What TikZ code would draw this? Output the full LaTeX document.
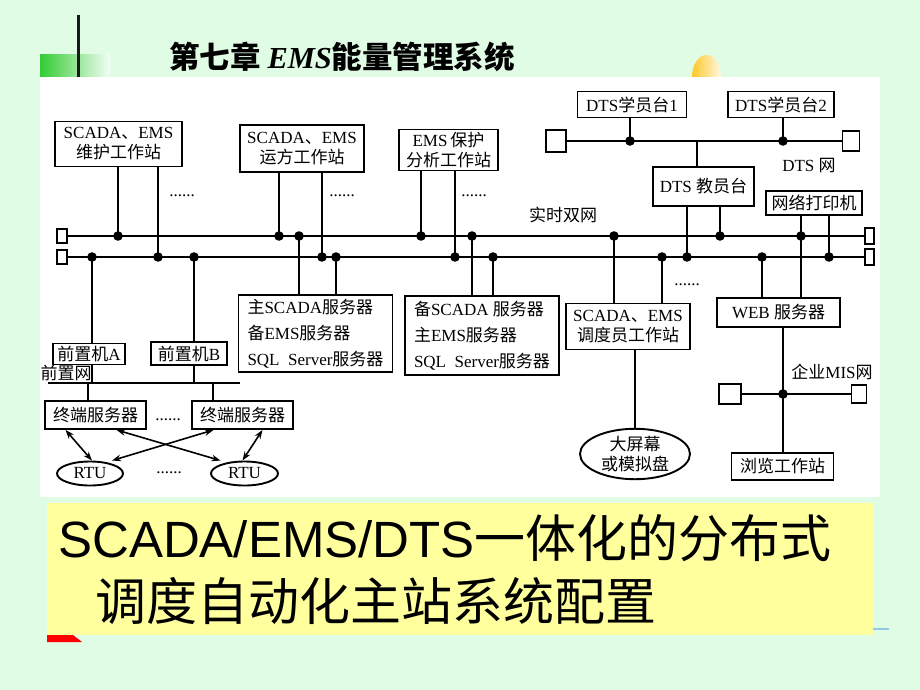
\documentclass[tikz,border=0pt]{standalone}
\usepackage{fontspec}
\setmainfont{Liberation Serif}
\newfontfamily\cjk{Noto Sans CJK SC}
\newfontfamily\capsans{Liberation Sans}
\usetikzlibrary{shapes.geometric,arrows.meta}

\definecolor{slidegreen}{RGB}{225,252,228}
\definecolor{capyellow}{RGB}{255,255,158}
\definecolor{barblue}{RGB}{150,200,230}
\newcommand{\zh}[1]{{\cjk #1}}
\newcommand{\diagfont}{\fontsize{17}{20}\selectfont}
\newcommand{\srvfont}{\fontsize{17}{26}\selectfont}
\newcommand{\capfont}{\capsans\fontsize{51}{51}\selectfont}

\tikzset{
  box/.style={draw, line width=1.9pt, inner sep=2pt, font=\diagfont, align=center, fill=white},
  oval/.style={ellipse, draw, line width=1.9pt, inner sep=0pt, font=\diagfont, align=center, fill=white},
  term/.style={draw, line width=1.6pt, fill=white, inner sep=0pt},
  wire/.style={line width=1.9pt},
  lbl/.style={font=\diagfont, inner sep=0pt},
  link/.style={line width=1.6pt, {Stealth[length=9pt,width=6.5pt]}-{Stealth[length=9pt,width=6.5pt]}},
}

\begin{document}
\begin{tikzpicture}[x=1pt, y=-1pt]
  \useasboundingbox (0,0) rectangle (920,690);
  \fill[slidegreen] (0,0) rectangle (920,690);

  % slide header
  \shade[left color={rgb,255:red,255;green,200;blue,40}, right color={rgb,255:red,255;green,248;blue,225}] (706.5,77) ellipse (14.5 and 22);
  \shade[left color={rgb,255:red,51;green,204;blue,51}, right color=white!60!slidegreen] (40,55) rectangle (110,77);
  \draw[line width=3pt, black!90] (78.5,15) -- (78.5,77);
  \node[inner sep=0pt, font=\cjk\bfseries\fontsize{30.5}{30.5}\selectfont] (title) at (342,57)
    {第七章 {\rmfamily\itshape\bfseries EMS}能量管理系统};
  \fill[white] (40,77) rectangle (880,497);

  % caption
  \fill[red] (47,635) -- (73,635) -- (82,642) -- (47,642) -- cycle;
  \draw[barblue, line width=2.5pt] (872,629) -- (889,629);
  \fill[capyellow] (47,503) rectangle (873,635);
  \node[anchor=base west, inner sep=0pt, font=\capfont] (cap1) at (58,557) {SCADA/EMS/DTS\zh{一体化的分布式}};
  \node[anchor=base west, inner sep=0pt, font=\capfont] (cap2) at (95,620) {\zh{调度自动化主站系统配置}};

  % boxes
  \node[box, minimum width=127pt, minimum height=45pt] (ws1) at (118.5,144) {SCADA\zh{、}EMS\\\zh{维护工作站}};
  \node[box, minimum width=124pt, minimum height=47pt] (ws2) at (302,148.5) {SCADA\zh{、}EMS\\\zh{运方工作站}};
  \node[box, minimum width=99pt, minimum height=41pt] (ws3) at (448.5,150) {EMS\,\zh{保护}\\\zh{分析工作站}};
  \node[box, minimum width=109pt, minimum height=26pt] (dts1) at (632,104.5) {DTS\zh{学员台}1};
  \node[box, minimum width=106pt, minimum height=26pt] (dts2) at (781,104.5) {DTS\zh{学员台}2};
  \node[box, minimum width=101pt, minimum height=39pt] (teach) at (703.5,186.5) {DTS \zh{教员台}};
  \node[box, minimum width=96pt, minimum height=24pt] (prn) at (814,203) {\zh{网络打印机}};
  \node[box, minimum width=154pt, minimum height=77pt, align=left, font=\srvfont] (srv1) at (315.5,333.5)
    {\zh{主}SCADA\zh{服务器}\\\zh{备}EMS\zh{服务器}\\SQL\ \ Server\zh{服务器}};
  \node[box, minimum width=154pt, minimum height=79pt, align=left, font=\srvfont] (srv2) at (482,335.5)
    {\zh{备}SCADA \zh{服务器}\\\zh{主}EMS\zh{服务器}\\SQL\ \ Server\zh{服务器}};
  \node[box, minimum width=124pt, minimum height=46pt] (disp) at (628,326.5) {SCADA\zh{、}EMS\\\zh{调度员工作站}};
  \node[box, minimum width=123pt, minimum height=29pt] (web) at (778.5,312.5) {WEB \zh{服务器}};
  \node[box, minimum width=102pt, minimum height=27pt] (browse) at (782.5,466.5) {\zh{浏览工作站}};
  \node[oval, minimum width=110pt, minimum height=48pt] (screen) at (635,454) {\zh{大屏幕}\\\zh{或模拟盘}};
  \node[box, minimum width=72pt, minimum height=21pt] (feA) at (89,354) {\zh{前置机}A};
  \node[box, minimum width=76pt, minimum height=23pt] (feB) at (189,353.5) {\zh{前置机}B};
  \node[box, minimum width=101pt, minimum height=28pt] (ts1) at (95.5,415) {\zh{终端服务器}};
  \node[box, minimum width=101pt, minimum height=28pt] (ts2) at (242.5,415) {\zh{终端服务器}};
  \node[oval, minimum width=66pt, minimum height=24pt] (rtu1) at (90,473.5) {RTU};
  \node[oval, minimum width=67pt, minimum height=24pt] (rtu2) at (244.5,473.5) {RTU};

  % labels
  \node[lbl] (rtnet) at (563,215) {\zh{实时双网}};
  \node[lbl] (dtsnet) at (809,166) {DTS \zh{网}};
  \node[lbl] (misnet) at (832,372) {\zh{企业}MIS\zh{网}};
  \node[lbl] (fenet) at (66,373) {\zh{前置网}};
  \foreach \x/\y [count=\i] in {182/196, 342/196, 474/196, 687/285, 168/420, 169/473}
    \node[lbl] (dots\i) at (\x,\y) {......};

  % terminators
  \node[term, minimum width=9.5pt, minimum height=14.5pt] (tl1) at (62,236) {};
  \node[term, minimum width=9.5pt, minimum height=14.5pt] (tl2) at (62,257) {};
  \node[term, minimum width=9pt, minimum height=16pt] (tr1) at (869.5,236) {};
  \node[term, minimum width=9pt, minimum height=16pt] (tr2) at (869.5,257) {};
  \node[term, minimum width=20pt, minimum height=22pt] (dl) at (556,141) {};
  \node[term, minimum width=17pt, minimum height=19.5pt] (dr) at (851,141) {};
  \node[term, minimum width=22pt, minimum height=20pt] (ml) at (730,394) {};
  \node[term, minimum width=15pt, minimum height=18pt] (mr) at (859,394) {};

  % networks
  \draw[wire] (tl1.east) -- (tr1.west);
  \draw[wire] (tl2.east) -- (tr2.west);
  \draw[wire] (dl.east) -- (dr.west);
  \draw[wire] (ml.east) -- (mr.west);
  \coordinate (fw-l) at (48,383);
  \coordinate (fw-r) at (240,383);
  \draw[line width=1.6pt] (fw-l) -- (fw-r);

  \foreach \x/\n in {118/ws1, 279/ws2, 299/srv1, 421/ws3, 472/srv2, 614/disp, 720/teach, 801/prn}
    \coordinate (up-\n) at (\x,236);
  \foreach \x/\n in {92/feA, 158/ws1, 194/feB, 322/ws2, 336/srv1, 455/ws3, 493/srv2, 662/disp, 687/teach, 762/web, 829/prn}
    \coordinate (lo-\n) at (\x,257);
  \coordinate (dn-dts1) at (630,141);
  \coordinate (dn-dts2) at (783,141);
  \coordinate (dn-teach) at (697,141);
  \coordinate (mis) at (783,394);
  \coordinate (fw-ts1) at (88,383);
  \coordinate (fw-ts2) at (213,383);

  \foreach \n in {ws1,ws2,ws3,teach,prn} {
    \draw[wire] (\n.south -| up-\n) -- (up-\n);
    \draw[wire] (\n.south -| lo-\n) -- (lo-\n);
  }
  \foreach \n in {srv1,srv2,disp} {
    \draw[wire] (up-\n) -- (\n.north -| up-\n);
    \draw[wire] (lo-\n) -- (\n.north -| lo-\n);
  }
  \draw[wire] (up-prn) -- (web.north -| up-prn);
  \draw[wire] (lo-web) -- (web.north -| lo-web);
  \draw[wire] (lo-feA) -- (feA.north -| lo-feA);
  \draw[wire] (lo-feB) -- (feB.north -| lo-feB);
  \draw[wire] (feA.south -| lo-feA) -- (lo-feA |- fw-l);
  \draw[wire] (feB.south -| lo-feB) -- (lo-feB |- fw-l);
  \draw[wire] (fw-ts1) -- (ts1.north -| fw-ts1);
  \draw[wire] (fw-ts2) -- (ts2.north -| fw-ts2);
  \draw[wire] (dts1.south -| dn-dts1) -- (dn-dts1);
  \draw[wire] (dts2.south -| dn-dts2) -- (dn-dts2);
  \draw[wire] (dn-teach) -- (teach.north -| dn-teach);
  \draw[wire] (web.south -| mis) -- (mis) -- (browse.north -| mis);
  \draw[wire] (screen.north) -- (screen.north |- disp.south);

  \foreach \n in {ws1,ws2,srv1,ws3,srv2,disp,teach,prn}
    \fill (up-\n) circle (4.8pt);
  \foreach \n in {feA,ws1,feB,ws2,srv1,ws3,srv2,disp,teach,web,prn}
    \fill (lo-\n) circle (4.8pt);
  \fill (dn-dts1) circle (4.8pt);
  \fill (dn-dts2) circle (4.8pt);
  \fill (mis) circle (4.8pt);

  % terminal servers to RTUs
  \draw[link] ([xshift=-30pt]ts1.south) -- ([xshift=2pt]rtu1.north);
  \draw[link] ([xshift=21pt]ts1.south) -- ([xshift=-24pt]rtu2.north);
  \draw[link] ([xshift=-29pt]ts2.south) -- ([xshift=22pt]rtu1.north);
  \draw[link] ([xshift=20pt]ts2.south) -- ([xshift=-2pt]rtu2.north);
\end{tikzpicture}
\end{document}
